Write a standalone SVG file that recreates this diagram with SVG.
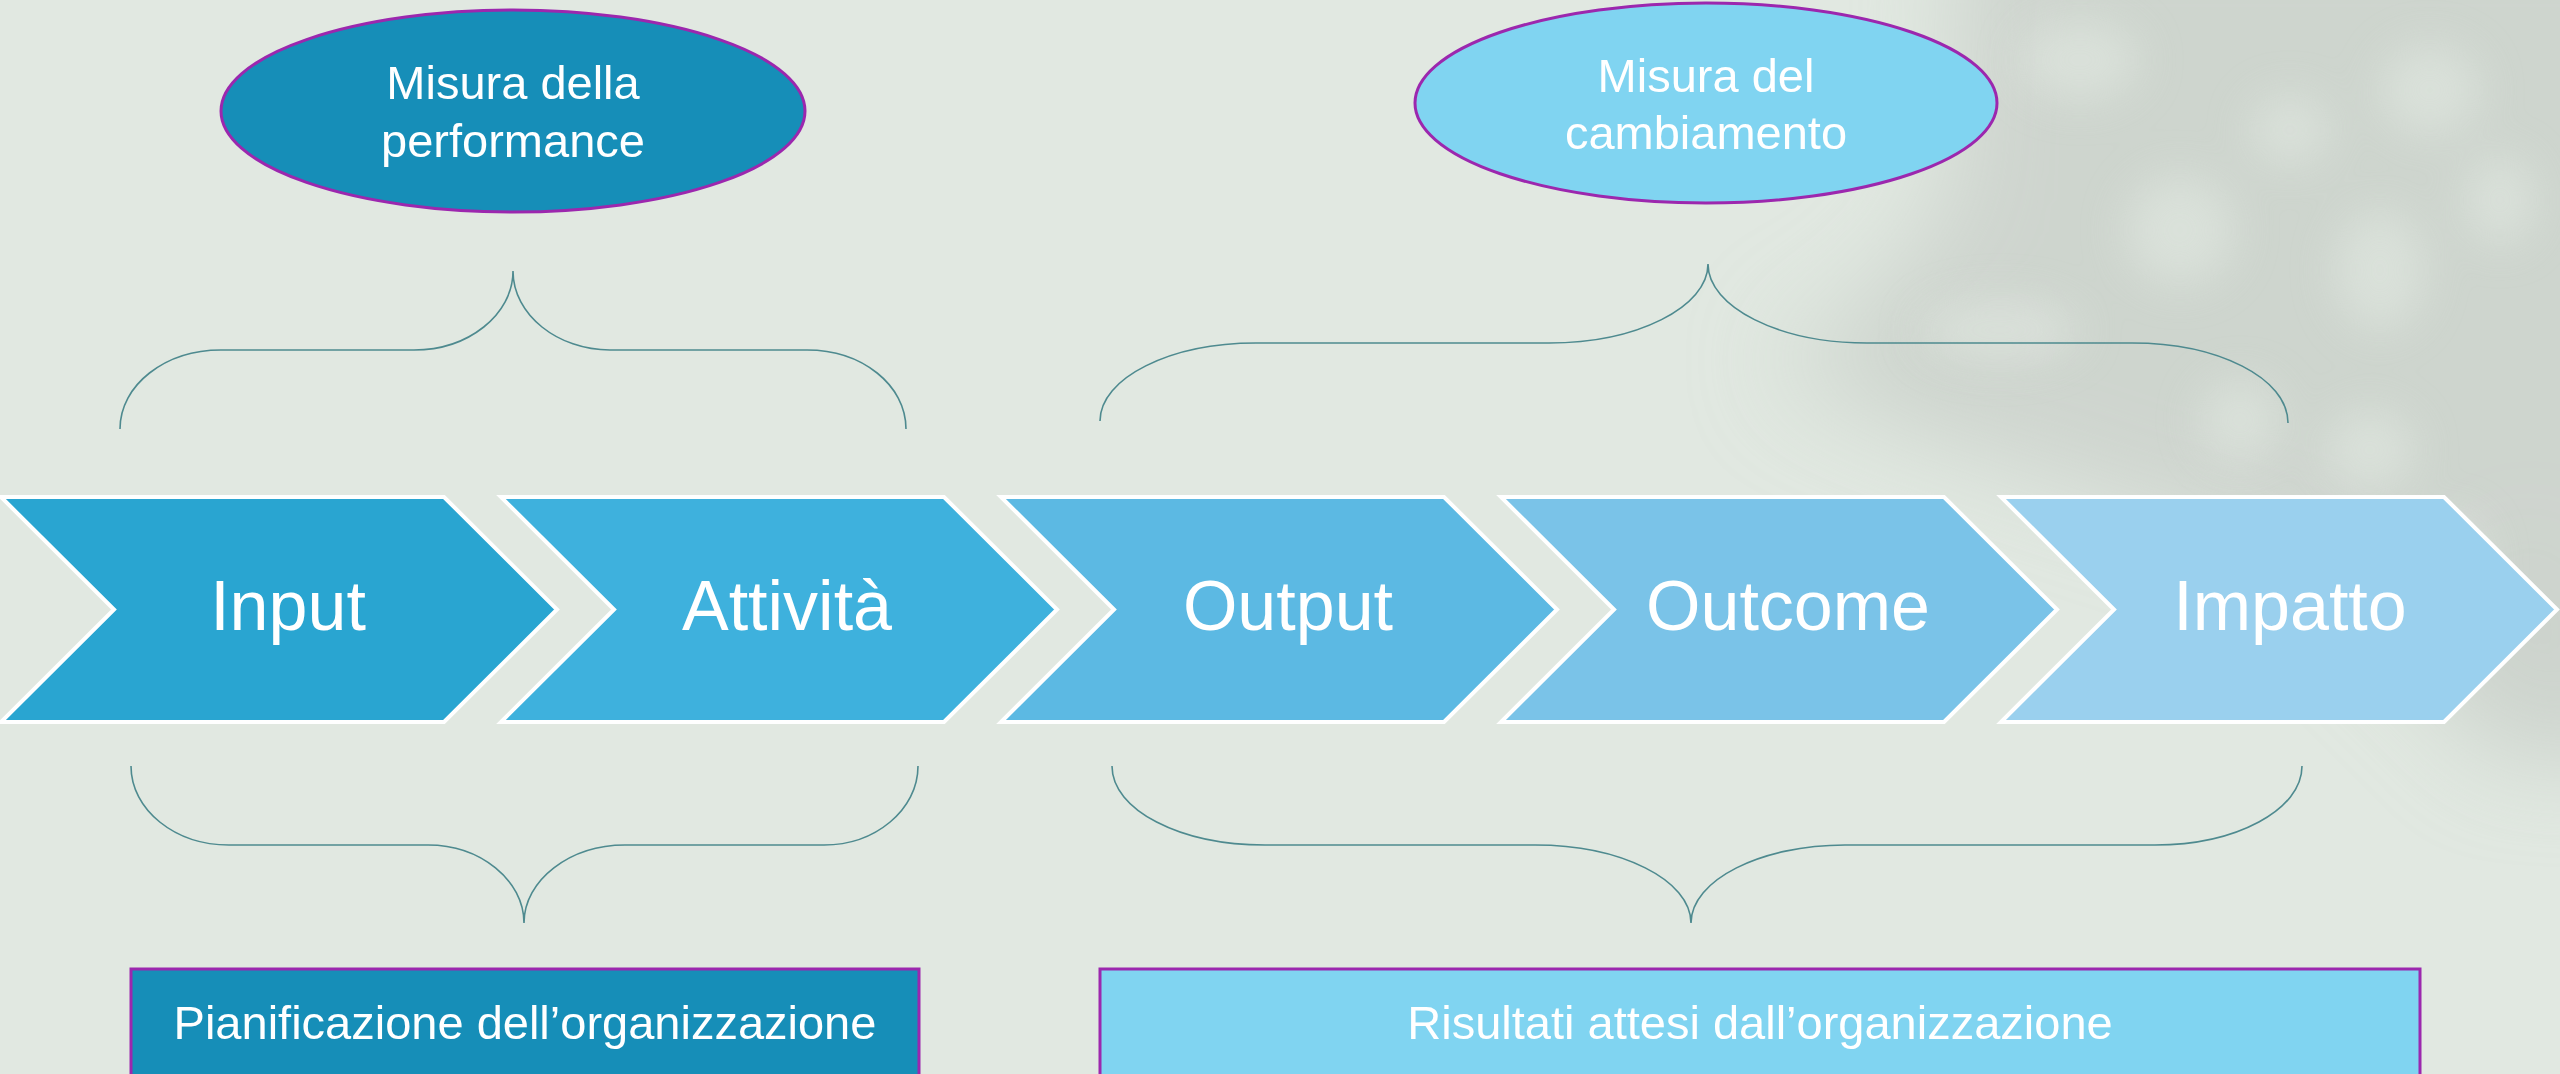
<svg xmlns="http://www.w3.org/2000/svg" width="2560" height="1074" viewBox="0 0 2560 1074">
<defs>
<style>
.chev{stroke:#FFFFFF;stroke-width:4;stroke-linejoin:miter}
.chevtxt{font-family:"Liberation Sans",Arial,sans-serif;font-size:70px;fill:#FFFFFF;text-anchor:middle}
.oval{stroke:#9C27AE;stroke-width:3}
.ovaltxt{font-family:"Liberation Sans",Arial,sans-serif;font-size:47px;fill:#FFFFFF;text-anchor:middle}
.box{stroke:#9C27AE;stroke-width:3}
.boxtxt{font-family:"Liberation Sans",Arial,sans-serif;font-size:47px;fill:#FFFFFF;text-anchor:middle}
.brace{fill:none;stroke:#4E8A8F;stroke-width:1.6}
</style>
<filter id="blurBig" filterUnits="userSpaceOnUse" x="0" y="-200" width="2760" height="1400"><feGaussianBlur stdDeviation="45"/></filter>
<filter id="blurSmall" filterUnits="userSpaceOnUse" x="0" y="-200" width="2760" height="1400"><feGaussianBlur stdDeviation="22"/></filter>
</defs>
<rect id="background" x="0" y="0" width="2560" height="1074" fill="#E1E8E1"/>
<g id="bg-pattern" filter="url(#blurBig)" fill="#CCD3CC">
<polygon points="1960,-100 2700,-100 2700,760 2500,760 2300,560 2050,480 1880,420 1850,320 1950,200" opacity="0.9"/>
<ellipse cx="1900" cy="360" rx="120" ry="60" opacity="0.6"/>
<ellipse cx="2530" cy="640" rx="60" ry="110" opacity="0.8"/>
</g>
<g id="bg-highlights" filter="url(#blurSmall)" fill="#DFE6DF" opacity="0.7">
<ellipse cx="2080" cy="60" rx="60" ry="40"/>
<ellipse cx="2430" cy="90" rx="50" ry="45"/>
<ellipse cx="2180" cy="230" rx="55" ry="55"/>
<ellipse cx="2380" cy="270" rx="45" ry="60"/>
<ellipse cx="2500" cy="200" rx="35" ry="45"/>
<ellipse cx="2370" cy="450" rx="45" ry="40"/>
<ellipse cx="2240" cy="420" rx="40" ry="40"/>
<ellipse cx="2450" cy="560" rx="35" ry="45"/>
<ellipse cx="2000" cy="330" rx="80" ry="30"/>
<ellipse cx="2290" cy="130" rx="40" ry="35"/>
</g>

<g id="connectors">
<path id="brace-top-left" class="brace" d="M120,429 C120,385 165,350 221,350 L414,350 C468,350 513,315 513,271 C513,315 558,350 610,350 L807,350 C862,350 906,385 906,429"/>
<path id="brace-top-right" class="brace" d="M1100,421 C1100,378 1170,343 1256,343 L1549,343 C1637,343 1708,307 1708,264 C1708,307 1779,343 1867,343 L2132,343 C2218,343 2288,378 2288,423"/>
<path id="brace-bottom-left" class="brace" d="M131,766 C131,810 175,845 229,845 L428,845 C480,845 524,880 524,923 C524,880 570,845 625,845 L824,845 C875,845 918,810 918,766"/>
<path id="brace-bottom-right" class="brace" d="M1112,766 C1112,810 1180,845 1265,845 L1535,845 C1621,845 1691,880 1691,923 C1691,880 1761,845 1845,845 L2155,845 C2236,845 2302,810 2302,766"/>
</g>

<g id="node-input">
<polygon class="chev" fill="#29A5D1" points="1,497 444,497 557,609.5 444,722 1,722 114,609.5"/>
<text class="chevtxt" x="288" y="630">Input</text>
</g>
<g id="node-attivita">
<polygon class="chev" fill="#3EB1DD" points="501,497 944,497 1057,609.5 944,722 501,722 614,609.5"/>
<text class="chevtxt" x="787" y="630">Attività</text>
</g>
<g id="node-output">
<polygon class="chev" fill="#5CB9E3" points="1001,497 1444,497 1557,609.5 1444,722 1001,722 1114,609.5"/>
<text class="chevtxt" x="1288" y="630">Output</text>
</g>
<g id="node-outcome">
<polygon class="chev" fill="#7AC3E8" points="1501,497 1944,497 2057,609.5 1944,722 1501,722 1614,609.5"/>
<text class="chevtxt" x="1788" y="630">Outcome</text>
</g>
<g id="node-impatto">
<polygon class="chev" fill="#9AD0EE" points="2001,497 2444,497 2557,609.5 2444,722 2001,722 2114,609.5"/>
<text class="chevtxt" x="2290" y="630">Impatto</text>
</g>

<g id="node-misura-performance">
<ellipse class="oval" cx="513" cy="111" rx="292" ry="101" fill="#168EB8"/>
<text class="ovaltxt" x="513" y="99">Misura della</text>
<text class="ovaltxt" x="513" y="157">performance</text>
</g>
<g id="node-misura-cambiamento">
<ellipse class="oval" cx="1706" cy="103" rx="291" ry="100" fill="#80D4F1"/>
<text class="ovaltxt" x="1706" y="92">Misura del</text>
<text class="ovaltxt" x="1706" y="149">cambiamento</text>
</g>

<g id="node-pianificazione">
<rect class="box" x="131" y="969" width="788" height="112" fill="#168EB8"/>
<text class="boxtxt" x="525" y="1039">Pianificazione dell’organizzazione</text>
</g>
<g id="node-risultati">
<rect class="box" x="1100" y="969" width="1320" height="112" fill="#80D4F1"/>
<text class="boxtxt" x="1760" y="1039">Risultati attesi dall’organizzazione</text>
</g>
</svg>
